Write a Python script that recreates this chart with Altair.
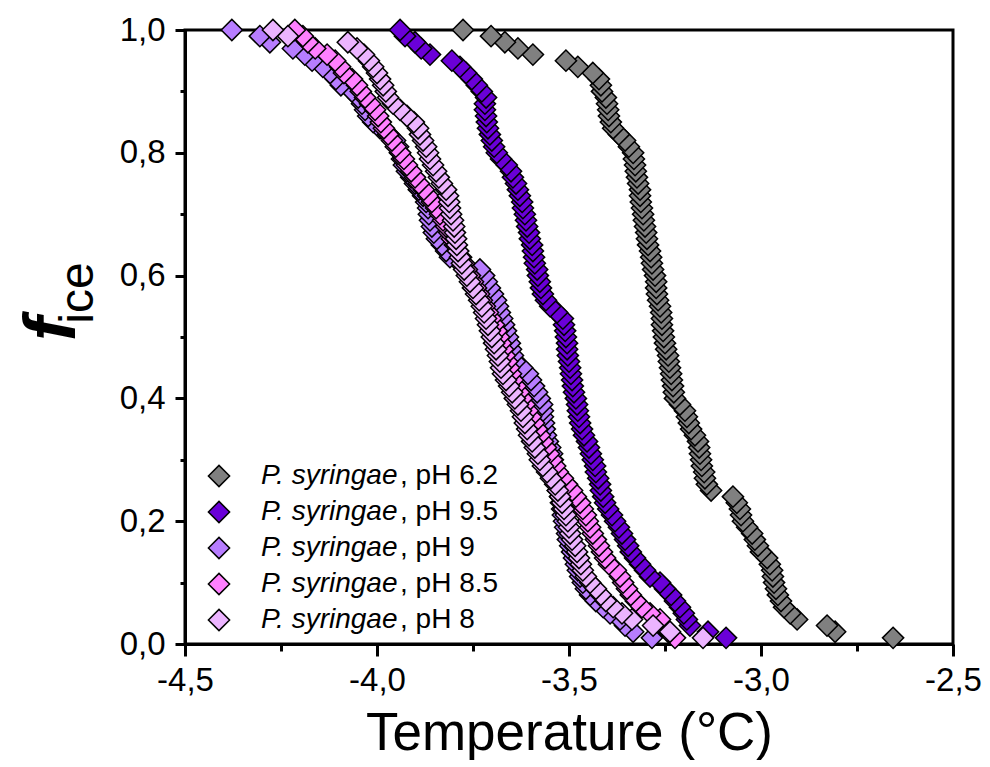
import altair as alt
import pandas as pd

FONT = "Liberation Sans"

series_keys = ["pH 6.2", "pH 9.5", "pH 9", "pH 8.5", "pH 8"]
series_suffix = [", pH 6.2", ", pH 9.5", ", pH 9", ", pH 8.5", ", pH 8"]
series_colors = ["#808080", "#6A00D8", "#B77DFF", "#FF80FF", "#ECB4FF"]

fice = [1.00, 0.99, 0.98, 0.97, 0.96, 0.95, 0.94, 0.93, 0.92, 0.91,
        0.90, 0.89, 0.88, 0.87, 0.86, 0.85, 0.84, 0.83, 0.82, 0.81,
        0.80, 0.79, 0.78, 0.77, 0.76, 0.75, 0.74, 0.73, 0.72, 0.71,
        0.70, 0.69, 0.68, 0.67, 0.66, 0.65, 0.64, 0.63, 0.62, 0.61,
        0.60, 0.59, 0.58, 0.57, 0.56, 0.55, 0.54, 0.53, 0.52, 0.51,
        0.50, 0.49, 0.48, 0.47, 0.46, 0.45, 0.44, 0.43, 0.42, 0.41,
        0.40, 0.39, 0.38, 0.37, 0.36, 0.35, 0.34, 0.33, 0.32, 0.31,
        0.30, 0.29, 0.28, 0.27, 0.26, 0.25, 0.24, 0.23, 0.22, 0.21,
        0.20, 0.19, 0.18, 0.17, 0.16, 0.15, 0.14, 0.13, 0.12, 0.11,
        0.10, 0.09, 0.08, 0.07, 0.06, 0.05, 0.04, 0.03, 0.02, 0.01]

temp_ph62 = [-3.776, -3.703, -3.667, -3.633, -3.594, -3.508, -3.477, -3.438, -3.422, -3.417,
             -3.414, -3.404, -3.401, -3.398, -3.396, -3.391, -3.385, -3.370, -3.354, -3.344,
             -3.333, -3.331, -3.328, -3.326, -3.323, -3.320, -3.315, -3.315, -3.313, -3.310,
             -3.307, -3.305, -3.302, -3.299, -3.297, -3.294, -3.289, -3.286, -3.284, -3.281,
             -3.276, -3.273, -3.273, -3.271, -3.268, -3.263, -3.260, -3.258, -3.258, -3.255,
             -3.253, -3.250, -3.247, -3.242, -3.240, -3.237, -3.234, -3.232, -3.229, -3.227,
             -3.224, -3.211, -3.198, -3.193, -3.188, -3.182, -3.172, -3.164, -3.161, -3.159,
             -3.156, -3.154, -3.148, -3.146, -3.141, -3.130, -3.073, -3.063, -3.055, -3.052,
             -3.047, -3.036, -3.023, -3.016, -3.008, -3.000, -2.984, -2.977, -2.971, -2.969,
             -2.966, -2.961, -2.956, -2.948, -2.940, -2.924, -2.906, -2.828, -2.807, -2.656]

temp_ph95 = [-3.940, -3.927, -3.901, -3.885, -3.862, -3.805, -3.784, -3.768, -3.753, -3.740,
             -3.727, -3.716, -3.719, -3.719, -3.716, -3.714, -3.711, -3.706, -3.701, -3.695,
             -3.688, -3.677, -3.662, -3.651, -3.646, -3.638, -3.633, -3.628, -3.622, -3.620,
             -3.615, -3.612, -3.609, -3.604, -3.602, -3.596, -3.594, -3.591, -3.589, -3.583,
             -3.581, -3.576, -3.573, -3.568, -3.560, -3.549, -3.531, -3.516, -3.513, -3.510,
             -3.508, -3.505, -3.505, -3.503, -3.500, -3.497, -3.495, -3.492, -3.490, -3.487,
             -3.482, -3.479, -3.477, -3.474, -3.471, -3.466, -3.461, -3.453, -3.448, -3.443,
             -3.438, -3.432, -3.430, -3.424, -3.419, -3.417, -3.411, -3.406, -3.398, -3.388,
             -3.380, -3.370, -3.362, -3.354, -3.346, -3.339, -3.328, -3.315, -3.302, -3.289,
             -3.263, -3.250, -3.234, -3.224, -3.211, -3.201, -3.193, -3.185, -3.138, -3.091]

temp_ph9 = [-4.378, -4.305, -4.279, -4.219, -4.188, -4.169, -4.141, -4.122, -4.107, -4.094,
            -4.065, -4.049, -4.039, -4.031, -4.023, -4.010, -3.992, -3.969, -3.953, -3.945,
            -3.940, -3.935, -3.930, -3.922, -3.911, -3.901, -3.891, -3.880, -3.872, -3.867,
            -3.865, -3.862, -3.857, -3.852, -3.844, -3.831, -3.820, -3.810, -3.784, -3.732,
            -3.721, -3.714, -3.706, -3.698, -3.690, -3.685, -3.680, -3.674, -3.669, -3.664,
            -3.659, -3.654, -3.651, -3.646, -3.641, -3.622, -3.607, -3.599, -3.591, -3.583,
            -3.576, -3.570, -3.568, -3.568, -3.565, -3.563, -3.560, -3.555, -3.549, -3.544,
            -3.542, -3.539, -3.536, -3.534, -3.531, -3.529, -3.523, -3.521, -3.518, -3.516,
            -3.513, -3.510, -3.505, -3.503, -3.497, -3.492, -3.487, -3.482, -3.477, -3.471,
            -3.464, -3.456, -3.445, -3.430, -3.411, -3.393, -3.367, -3.354, -3.333, -3.284]

temp_ph85 = [-4.214, -4.193, -4.180, -4.161, -4.130, -4.109, -4.096, -4.086, -4.065, -4.052,
             -4.042, -4.031, -4.018, -4.005, -3.997, -3.990, -3.982, -3.971, -3.961, -3.951,
             -3.940, -3.930, -3.922, -3.911, -3.901, -3.891, -3.878, -3.867, -3.857, -3.846,
             -3.836, -3.828, -3.820, -3.812, -3.805, -3.797, -3.789, -3.781, -3.773, -3.766,
             -3.758, -3.750, -3.742, -3.734, -3.727, -3.719, -3.711, -3.703, -3.695, -3.688,
             -3.682, -3.677, -3.672, -3.667, -3.661, -3.656, -3.651, -3.646, -3.638, -3.630,
             -3.622, -3.615, -3.607, -3.599, -3.591, -3.583, -3.576, -3.568, -3.560, -3.552,
             -3.544, -3.536, -3.529, -3.516, -3.505, -3.492, -3.482, -3.471, -3.464, -3.456,
             -3.451, -3.445, -3.438, -3.430, -3.422, -3.414, -3.406, -3.396, -3.378, -3.367,
             -3.359, -3.349, -3.339, -3.326, -3.310, -3.289, -3.263, -3.255, -3.242, -3.224]

temp_ph8 = [-4.271, -4.232, -4.076, -4.052, -4.034, -4.021, -4.010, -4.000, -3.992, -3.984,
            -3.977, -3.971, -3.958, -3.940, -3.922, -3.904, -3.893, -3.888, -3.880, -3.872,
            -3.867, -3.862, -3.854, -3.846, -3.839, -3.831, -3.820, -3.815, -3.812, -3.810,
            -3.807, -3.802, -3.799, -3.797, -3.794, -3.792, -3.789, -3.784, -3.779, -3.773,
            -3.766, -3.758, -3.750, -3.742, -3.734, -3.727, -3.721, -3.716, -3.711, -3.706,
            -3.701, -3.695, -3.690, -3.685, -3.680, -3.677, -3.672, -3.664, -3.656, -3.648,
            -3.641, -3.633, -3.625, -3.620, -3.615, -3.609, -3.604, -3.596, -3.589, -3.581,
            -3.576, -3.568, -3.557, -3.547, -3.536, -3.529, -3.523, -3.518, -3.513, -3.508,
            -3.503, -3.500, -3.497, -3.492, -3.484, -3.479, -3.474, -3.469, -3.464, -3.456,
            -3.445, -3.430, -3.417, -3.404, -3.385, -3.362, -3.336, -3.281, -3.237, -3.151]

x_major = [-4.5, -4.0, -3.5, -3.0, -2.5]
x_minor = [-4.25, -3.75, -3.25, -2.75]
y_major = [0.0, 0.2, 0.4, 0.6, 0.8, 1.0]
y_minor = [0.1, 0.3, 0.5, 0.7, 0.9]

all_temps = [temp_ph62, temp_ph95, temp_ph9, temp_ph85, temp_ph8]
rows = []
for key, suffix, temps in zip(series_keys, series_suffix, all_temps):
    pairs = list(zip(temps, fice))
    for t, f in reversed(pairs):
        rows.append({"series": key, "suffix": suffix, "T": t, "f": f})
df = pd.DataFrame(rows)

xscale = alt.Scale(domain=[-4.5, -2.5], nice=False, zero=False)
yscale = alt.Scale(domain=[0, 1], nice=False, zero=False)

x_expr = "(datum.value < 0 ? '-' : '') + replace(format(abs(datum.value), '.1f'), '.', ',')"
y_expr = "replace(format(datum.value, '.1f'), '.', ',')"

x_axis = alt.Axis(orient="bottom", values=x_major, labelExpr=x_expr, labelFont=FONT,
                  labelFontSize=33, labelColor="black", labelPadding=8, labelFlush=False,
                  labelOverlap=False, tickSize=12, tickWidth=3, tickColor="black",
                  domainColor="black", domainWidth=3, grid=False,
                  title="Temperature (°C)", titleFont=FONT, titleFontSize=53,
                  titleFontWeight="normal", titleColor="black", titlePadding=10)
y_axis = alt.Axis(orient="left", values=y_major, labelExpr=y_expr, labelFont=FONT,
                  labelFontSize=33, labelColor="black", labelPadding=10, labelFlush=False,
                  labelOverlap=False, tickSize=10, tickWidth=3, tickColor="black",
                  domainColor="black", domainWidth=3, grid=False, title=None)
x_axis_minor = alt.Axis(orient="bottom", values=x_minor, labels=False, domain=False,
                        grid=False, tickSize=7, tickWidth=3, tickColor="black", title=None)
y_axis_minor = alt.Axis(orient="left", values=y_minor, labels=False, domain=False,
                        grid=False, tickSize=5, tickWidth=3, tickColor="black", title=None)

legend1 = alt.Legend(title=None, orient="none", legendX=20, legendY=432, direction="vertical",
                     labelExpr="'P. syringae'", labelFont=FONT, labelFontSize=28,
                     labelFontStyle="italic", labelColor="black", labelLimit=0,
                     labelOffset=28, symbolType="diamond", symbolSize=450,
                     symbolStrokeColor="black", symbolStrokeWidth=1.5, symbolOpacity=1,
                     rowPadding=8, padding=0)
legend2 = alt.Legend(title=None, orient="none", legendX=187, legendY=432, direction="vertical",
                     labelFont=FONT, labelFontSize=28,
                     labelColor="black", labelLimit=0, labelOffset=0, symbolSize=1,
                     symbolOpacity=0, symbolStrokeWidth=0,
                     symbolFillColor="transparent", symbolStrokeColor="transparent",
                     rowPadding=8, padding=0)

base = alt.Chart(df)

minor = base.mark_point(opacity=0).encode(
    x=alt.X("T:Q", scale=xscale, axis=x_axis_minor),
    y=alt.Y("f:Q", scale=yscale, axis=y_axis_minor),
)

points = base.mark_point(shape="diamond", filled=True, size=450, stroke="black",
                         strokeWidth=1.5).encode(
    x=alt.X("T:Q", scale=xscale, axis=x_axis),
    y=alt.Y("f:Q", scale=yscale, axis=y_axis),
    color=alt.Color("series:N", scale=alt.Scale(domain=series_keys, range=series_colors),
                    legend=legend1),
    opacity=alt.Opacity("suffix:N", scale=alt.Scale(domain=series_suffix, range=[1, 1, 1, 1, 1]),
                        legend=legend2),
)

label_src = pd.DataFrame({"k": [0]})
f_text = alt.Chart(label_src).mark_text(
    text="f", font=FONT, fontSize=72, fontStyle="italic", fontWeight="bold",
    angle=270, align="center", baseline="alphabetic", color="black"
).encode(x=alt.value(-110), y=alt.value(299))
ice_text = alt.Chart(label_src).mark_text(
    text="ice", font=FONT, fontSize=48, angle=270, align="center",
    baseline="alphabetic", color="black"
).encode(x=alt.value(-92), y=alt.value(263))

chart = alt.layer(minor, points, f_text, ice_text).resolve_axis(
    x="independent", y="independent"
).properties(
    width=768, height=614,
    autosize=alt.AutoSizeParams(type="none"),
    padding={"left": 177, "top": 22, "right": 29, "bottom": 116},
    background="white",
).configure_view(stroke="black", strokeWidth=3)

chart.save("out.html", embed_options={"renderer": "svg", "actions": False})
